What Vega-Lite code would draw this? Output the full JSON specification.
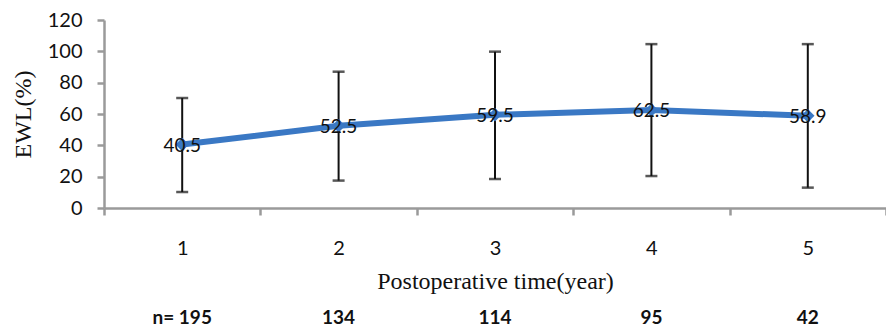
{
  "$schema": "https://vega.github.io/schema/vega-lite/v6.json",
  "autosize": "none",
  "width": 782,
  "height": 188,
  "padding": {"left": 104, "top": 20, "right": 0, "bottom": 124},
  "background": "white",
  "config": {
    "view": {"stroke": null},
    "axisY": {
      "grid": false, "labelOverlap": false, "labelSeparation": 0, "labelBound": false,
      "domainColor": "#9a9a9a", "domainWidth": 2.5, "tickColor": "#9a9a9a", "tickWidth": 2.5, "tickSize": 7,
      "labelFont": "Lato", "labelFontSize": 20, "labelColor": "#111", "labelPadding": 15,
      "titleFont": "Liberation Serif", "titleFontSize": 24,
      "titleFontWeight": "normal", "titleColor": "#111", "titlePadding": 12
    }
  },
  "data": {"values": [
    {"year": "1", "ewl": 40.5, "lo": 10.2, "hi": 70.2, "n": "n= 195"},
    {"year": "2", "ewl": 52.5, "lo": 17.5, "hi": 87.0, "n": "134"},
    {"year": "3", "ewl": 59.5, "lo": 18.5, "hi": 99.8, "n": "114"},
    {"year": "4", "ewl": 62.5, "lo": 20.4, "hi": 104.6, "n": "95"},
    {"year": "5", "ewl": 58.9, "lo": 13.0, "hi": 104.6, "n": "42"}
  ]},
  "layer": [
    {
      "encoding": {
        "x": {
          "field": "year", "type": "ordinal",
          "scale": {"type": "band", "paddingInner": 0, "paddingOuter": 0},
          "axis": {
            "orient": "bottom", "labelAngle": 0, "tickBand": "extent",
            "domainColor": "#9a9a9a", "domainWidth": 2.5, "tickColor": "#9a9a9a", "tickWidth": 2.5, "tickSize": 7,
            "labelFont": "Lato", "labelFontSize": 20, "labelColor": "#111", "labelPadding": 23,
            "title": "Postoperative time(year)", "titleFont": "Liberation Serif", "titleFontSize": 24,
            "titleFontWeight": "normal", "titleColor": "#111", "titlePadding": 11, "grid": false
          }
        }
      },
      "layer": [
        {
          "mark": {"type": "rule", "color": "#111", "strokeWidth": 2},
          "encoding": {
            "y": {"field": "lo", "type": "quantitative", "scale": {"domain": [0, 120], "nice": false},
                  "axis": {"values": [0, 20, 40, 60, 80, 100, 120], "labelOverlap": false, "title": "EWL(%)"}},
            "y2": {"field": "hi"}
          }
        },
        {
          "mark": {"type": "tick", "color": "#111", "size": 12, "thickness": 2.5, "orient": "horizontal"},
          "encoding": {"y": {"field": "lo", "type": "quantitative", "axis": {"values": [0, 20, 40, 60, 80, 100, 120], "labelOverlap": false, "title": "EWL(%)"}}}
        },
        {
          "mark": {"type": "tick", "color": "#111", "size": 12, "thickness": 2.5, "orient": "horizontal"},
          "encoding": {"y": {"field": "hi", "type": "quantitative", "axis": {"values": [0, 20, 40, 60, 80, 100, 120], "labelOverlap": false, "title": "EWL(%)"}}}
        },
        {
          "mark": {"type": "line", "color": "#3a78c4", "strokeWidth": 6},
          "encoding": {"y": {"field": "ewl", "type": "quantitative", "axis": {"values": [0, 20, 40, 60, 80, 100, 120], "labelOverlap": false, "title": "EWL(%)"}}}
        },
        {
          "mark": {"type": "point", "shape": "diamond", "filled": true, "color": "#3a78c4", "opacity": 1, "size": 180},
          "encoding": {"y": {"field": "ewl", "type": "quantitative", "axis": {"values": [0, 20, 40, 60, 80, 100, 120], "labelOverlap": false, "title": "EWL(%)"}}}
        }
      ]
    },
    {
      "mark": {"type": "text", "font": "Lato", "fontSize": 19, "color": "#111", "align": "center", "baseline": "middle", "dy": 1},
      "encoding": {
        "x": {
          "field": "n", "type": "ordinal", "sort": {"field": "year"},
          "scale": {"type": "band", "paddingInner": 0, "paddingOuter": 0},
          "axis": {
            "orient": "bottom", "domain": false, "ticks": false, "grid": false, "labelAngle": 0,
            "labelFont": "Lato", "labelFontSize": 19, "labelFontWeight": "bold", "labelColor": "#111",
            "labelPadding": 100, "title": null
          }
        },
        "y": {"field": "ewl", "type": "quantitative", "axis": {"values": [0, 20, 40, 60, 80, 100, 120], "labelOverlap": false, "title": "EWL(%)"}},
        "text": {"field": "ewl", "type": "quantitative", "format": ".1f"}
      }
    }
  ],
  "resolve": {"scale": {"x": "independent"}, "axis": {"x": "independent"}}
}
